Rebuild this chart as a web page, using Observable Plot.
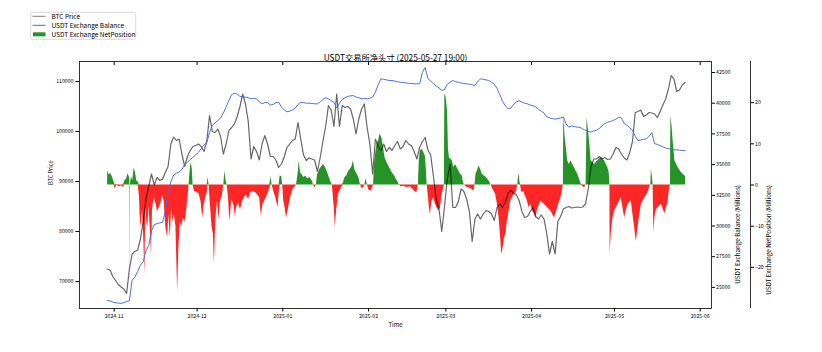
<!DOCTYPE html>
<html><head><meta charset="utf-8">
<script src="https://cdn.jsdelivr.net/npm/d3@7"></script>
<script src="https://cdn.jsdelivr.net/npm/@observablehq/plot@0.6"></script>
<style>
body{margin:0;background:#fff;}
#wrap{position:relative;width:822px;height:352px;font-family:"Noto Sans CJK SC",sans-serif;}
#wrap svg{position:absolute;left:0;top:0;}
</style></head><body><div id="wrap"></div>
<script>
// ---------------- data ----------------
const titleText = "USDT交易所净头寸 (2025-05-27 19:00)";
const xLabel = "Time";
const btcLabel = "BTC Price";
const balLabel = "USDT Exchange Balance (Millions)";
const netLabel = "USDT Exchange NetPosition (Millions)";
const legendLabels = ["BTC Price", "USDT Exchange Balance", "USDT Exchange NetPosition"];
const xTicks = ["2024-11","2024-12","2025-01","2025-02","2025-03","2025-04","2025-05","2025-06"];
const btcTicks = [70000, 80000, 90000, 100000, 110000];
const balTicks = [25000, 27500, 30000, 32500, 35000, 37500, 40000, 42500];
const netTicks = [-20, -10, 0, 10, 20];

// daily series, first day 2024-10-29
const dailyStart = "2024-10-29";
const btcPrice = [
72500,72300,71000,
70200,69400,68900,68500,67600,72500,75500,76000,76300,78500,82000,86500,89000,91500,89300,90800,90200,90500,91800,93000,97500,98900,98200,98500,95500,93000,95000,96200,97000,97200,
97500,97000,96000,98000,103200,100000,99800,100500,99000,95500,97500,100200,100800,101500,103000,105000,107500,105500,102000,94500,97000,96000,94300,97500,99200,97500,95000,95000,94300,92800,93500,
94900,96800,97500,98200,98500,101800,98500,95300,94200,94700,94500,94300,92000,94700,98000,101000,105200,104300,101000,107500,101000,105200,104800,105000,104500,102500,99500,102500,104500,105500,100800,
97500,91500,98500,97000,96200,97500,96000,96800,96200,97200,98000,96500,97000,98200,97500,97200,96000,94500,96800,98000,98800,96300,95300,91000,86500,84500,80000,85000,
90500,93500,84800,84800,86000,88500,88000,86500,84000,78000,82500,83500,82500,83500,84200,84000,83500,82200,84800,85500,84900,85800,87600,88200,87700,87300,86200,84000,82800,83000,84000,
84800,83000,82500,83300,82500,79500,75500,78000,75500,82000,83000,84500,84800,85000,84700,84800,84900,84800,84900,85500,88500,93000,94500,94500,95000,94500,94800,94400,94500,95500,
96800,96500,95500,94700,94300,95800,98000,103800,104000,104300,103000,103300,103800,103700,103500,102800,104000,105300,106500,108500,111200,110500,108000,108300,109300,109800
];
const usdtBalance = [
23930,23900,23800,
23750,23720,23700,23750,23850,23900,25600,25850,26300,26800,27100,28000,28400,29600,30100,30200,30250,30300,31200,32800,33600,34150,34300,34400,34600,35000,35200,35400,35600,35800,
36000,36300,36600,36800,37600,38200,38400,38600,38800,39200,39700,40200,40700,40800,40750,40550,40500,40500,40450,40350,40400,40350,40100,39950,40050,40050,39850,39900,40050,40080,39700,
39450,39300,39350,39450,39600,39900,40080,40050,40000,40000,39980,39950,39950,40100,40300,40450,40350,40200,40080,39600,40000,40300,40450,40550,40600,40620,40500,40450,40350,40400,40350,
40400,40500,40900,41500,41980,41950,41900,41850,41850,41800,41750,41700,41700,41650,41620,41600,41580,41580,41580,42500,42900,42000,41800,41600,41400,41250,41050,41100,
41550,41700,41850,41750,41700,41650,41600,41580,41550,41500,41450,41750,41980,41950,41900,41850,41700,41550,41200,40700,40150,39800,39550,39600,39900,40100,40200,40100,40000,39950,39850,
39800,39700,39500,39350,39200,38900,38800,38750,38700,38750,38800,38860,38300,38050,38150,38100,38050,38040,37900,37800,37700,37640,37750,37800,37950,38150,38350,38450,38500,38600,
38700,38850,38800,38350,38200,38000,37800,37300,36950,37000,37050,37100,37300,37600,36700,36650,36550,36450,36350,36300,36250,36200,36200,36180,36150,36140
];

// net position (irregular hourly samples, "YYYY-MM-DD HH")
const netTime = [
"2024-10-29 15","2024-10-30 03","2024-10-30 17","2024-10-31 08","2024-10-31 22","2024-11-01 10","2024-11-01 22","2024-11-02 18","2024-11-03 15","2024-11-04 08",
"2024-11-04 20","2024-11-05 13","2024-11-06 00","2024-11-06 13","2024-11-06 16","2024-11-06 18","2024-11-06 20","2024-11-07 06","2024-11-07 17","2024-11-08 05",
"2024-11-08 17","2024-11-09 04","2024-11-09 16","2024-11-10 04","2024-11-10 09","2024-11-10 18","2024-11-11 06","2024-11-11 17","2024-11-12 02","2024-11-12 11",
"2024-11-12 19","2024-11-13 04","2024-11-13 15","2024-11-14 04","2024-11-14 12","2024-11-14 21","2024-11-15 11","2024-11-16 02","2024-11-16 17","2024-11-17 07",
"2024-11-17 22","2024-11-18 12","2024-11-19 02","2024-11-19 17","2024-11-20 08","2024-11-20 19","2024-11-21 07","2024-11-21 19","2024-11-22 06","2024-11-22 18",
"2024-11-23 08","2024-11-23 23","2024-11-24 10","2024-11-24 22","2024-11-25 10","2024-11-26 00","2024-11-26 15","2024-11-27 06","2024-11-27 17","2024-11-28 02",
"2024-11-28 10","2024-11-28 19","2024-11-29 06","2024-11-29 13","2024-11-30 00","2024-11-30 23","2024-12-01 17","2024-12-02 10","2024-12-03 01","2024-12-03 13",
"2024-12-04 03","2024-12-04 15","2024-12-04 23","2024-12-05 08","2024-12-05 19","2024-12-06 10","2024-12-06 22","2024-12-07 06","2024-12-07 19","2024-12-08 09",
"2024-12-08 23","2024-12-09 11","2024-12-10 04","2024-12-10 16","2024-12-11 01","2024-12-11 12","2024-12-11 21","2024-12-12 08","2024-12-12 21","2024-12-13 14",
"2024-12-14 08","2024-12-14 19","2024-12-15 06","2024-12-16 00","2024-12-16 17","2024-12-17 11","2024-12-18 04","2024-12-18 21","2024-12-19 15","2024-12-20 08",
"2024-12-21 05","2024-12-22 10","2024-12-23 15","2024-12-24 06","2024-12-24 20","2024-12-26 01","2024-12-27 06","2024-12-27 18","2024-12-28 03","2024-12-28 17",
"2024-12-29 10","2024-12-30 07","2024-12-30 16","2024-12-31 01","2024-12-31 15","2024-12-31 23","2025-01-01 08","2025-01-01 20","2025-01-02 08","2025-01-02 22",
"2025-01-03 12","2025-01-04 03","2025-01-04 18","2025-01-05 12","2025-01-05 23","2025-01-06 14","2025-01-06 22","2025-01-07 10","2025-01-08 01","2025-01-08 15",
"2025-01-09 05","2025-01-09 23","2025-01-10 19","2025-01-11 16","2025-01-12 03","2025-01-12 14","2025-01-13 03","2025-01-13 14","2025-01-14 10","2025-01-15 03",
"2025-01-15 18","2025-01-16 12","2025-01-17 05","2025-01-17 20","2025-01-18 13","2025-01-18 22","2025-01-19 07","2025-01-19 16","2025-01-20 00","2025-01-20 12",
"2025-01-21 03","2025-01-21 16","2025-01-22 10","2025-01-22 22","2025-01-23 12","2025-01-24 03","2025-01-24 18","2025-01-25 11","2025-01-26 01","2025-01-26 13",
"2025-01-27 03","2025-01-27 18","2025-01-28 12","2025-01-29 02","2025-01-29 14","2025-01-30 05","2025-01-30 16","2025-01-31 03","2025-01-31 15","2025-02-01 03",
"2025-02-01 18","2025-02-02 08","2025-02-02 20","2025-02-03 04","2025-02-03 16","2025-02-04 03","2025-02-04 18","2025-02-05 05","2025-02-05 20","2025-02-06 11",
"2025-02-07 01","2025-02-07 16","2025-02-08 15","2025-02-09 14","2025-02-10 16","2025-02-10 22","2025-02-11 16","2025-02-12 03","2025-02-12 18","2025-02-13 17",
"2025-02-14 22","2025-02-16 03","2025-02-17 00","2025-02-17 17","2025-02-18 11","2025-02-19 01","2025-02-19 09","2025-02-19 18","2025-02-20 09","2025-02-21 00",
"2025-02-21 14","2025-02-21 22","2025-02-22 05","2025-02-22 13","2025-02-23 01","2025-02-23 09","2025-02-24 00","2025-02-24 15","2025-02-25 05","2025-02-25 20",
"2025-02-26 11","2025-02-27 01","2025-02-27 15","2025-02-28 06","2025-02-28 11","2025-02-28 15","2025-03-01 02","2025-03-01 14","2025-03-01 22","2025-03-02 07",
"2025-03-02 19","2025-03-03 07","2025-03-03 21","2025-03-04 11","2025-03-05 02","2025-03-05 17","2025-03-06 07","2025-03-06 22","2025-03-07 09","2025-03-07 18",
"2025-03-08 09","2025-03-09 08","2025-03-10 07","2025-03-11 04","2025-03-11 13","2025-03-11 21","2025-03-12 09","2025-03-12 23","2025-03-13 13","2025-03-14 04",
"2025-03-14 22","2025-03-15 15","2025-03-16 15","2025-03-17 08","2025-03-17 19","2025-03-18 10","2025-03-19 00","2025-03-19 15","2025-03-20 06","2025-03-20 17",
"2025-03-21 05","2025-03-21 17","2025-03-22 04","2025-03-22 15","2025-03-23 06","2025-03-23 21","2025-03-24 11","2025-03-25 02","2025-03-25 19","2025-03-26 13",
"2025-03-27 00","2025-03-27 09","2025-03-27 18","2025-03-28 00","2025-03-28 11","2025-03-29 02","2025-03-29 17","2025-03-30 07","2025-03-31 03","2025-03-31 17",
"2025-04-01 08","2025-04-01 23","2025-04-02 13","2025-04-03 04","2025-04-04 09","2025-04-05 14","2025-04-06 19","2025-04-08 00","2025-04-09 06","2025-04-10 02",
"2025-04-10 19","2025-04-11 15","2025-04-12 06","2025-04-12 12","2025-04-12 15","2025-04-13 02","2025-04-13 14","2025-04-14 01","2025-04-14 16","2025-04-15 06",
"2025-04-15 21","2025-04-16 12","2025-04-17 02","2025-04-17 17","2025-04-18 08","2025-04-18 21","2025-04-19 12","2025-04-20 03","2025-04-20 17","2025-04-21 02",
"2025-04-21 14","2025-04-22 01","2025-04-22 13","2025-04-23 18","2025-04-24 23","2025-04-26 04","2025-04-27 10","2025-04-28 00","2025-04-28 14","2025-04-29 02",
"2025-04-29 08","2025-04-29 10","2025-04-29 19","2025-04-30 10","2025-05-01 01","2025-05-02 06","2025-05-03 10","2025-05-04 01","2025-05-04 16","2025-05-05 06",
"2025-05-05 21","2025-05-07 02","2025-05-07 16","2025-05-08 07","2025-05-08 21","2025-05-09 12","2025-05-10 03","2025-05-10 17","2025-05-11 22","2025-05-13 03",
"2025-05-13 18","2025-05-14 03","2025-05-14 08","2025-05-14 17","2025-05-14 23","2025-05-15 05","2025-05-15 14","2025-05-16 04","2025-05-16 18","2025-05-17 23",
"2025-05-19 05","2025-05-19 19","2025-05-20 10","2025-05-20 21","2025-05-21 06","2025-05-21 09","2025-05-21 20","2025-05-22 05","2025-05-22 20","2025-05-24 01",
"2025-05-25 06","2025-05-26 11","2025-05-26 16"
];
const netValue = [
3.4,2.5,2.8,2.0,0.8,-1.0,0.1,-0.4,-0.2,-0.6,
1.0,1.5,2.8,1.8,0,-26.6,0,2.0,1.0,4.1,
3.0,1.0,0.8,-3,-7.2,-10.4,-6,-13,-21.8,-5,
-9,-10.4,-5,-12,-17,-6,-3,-4.5,-6.5,-5.5,
-4.5,-2.5,-4,-10.4,-12.8,-7,-12.8,-5.5,-9,-7,
-10,-25.9,-15,-9,-10.4,-8,-9,-6,-3,0,
3,5.4,4,0,-1.5,-1.8,-2.2,-4,-8,-5,
-3,-2,1.8,0,-4.5,-10.4,-12,-19.4,-8,-4,
-8.5,-4,-2.5,0,3.4,1,0,-3,-9,-3.5,
-5,-7.5,-5.5,-4.5,-6,-4,-3,-2.5,-3.5,-2,
-1.5,-2,-3.1,-7.6,-4.7,-3.1,-1,2,0,-1.5,
-3,-5.5,-2,2.2,2,0,-3.9,-5.5,-8,-6.3,
-3.9,-2.3,-1,-0.5,0,3,5.9,3,2.4,1.8,
2.2,1.5,1.8,1,0,-0.7,0,2.5,3.8,4.5,
5,4.2,3,1.8,0.5,0,-3,-6,-10.4,-6,
-2.3,-1.5,-0.5,0.5,1.8,2.2,3.2,3.8,4.5,5.9,
3.5,2.8,1.8,0,-0.7,-0.8,0,1.5,0,-1.2,
-1.5,-1.0,0,5,8,10,11,12.4,11.5,9,
6.5,5.5,4.2,3,2,1.5,0.7,0,-0.4,-0.3,
-0.6,-0.4,-1,-1.5,-1.9,0,5.9,8.3,8.7,7.9,
7,4,0,-2,-5.5,-7.2,-3.9,-3.1,-4.7,-5.5,
-6.3,-5.5,-2.3,-0.6,0,22.1,21.3,18,9,6.5,
6.3,5.9,4.2,5,4.2,3.4,2.6,2.2,0.5,0,
-0.5,-0.7,-1,-1.5,0,2.6,3.4,4.6,3.8,2.6,
2.2,1.8,1,0,-0.7,-1.5,-2.3,-4.6,-8,-12,
-16.9,-15.3,-13,-12,-8.8,-6.3,-3.9,-3.1,-2.3,-1.5,
0,3,1,0,-1.9,-1.5,-2.6,-3.5,-5.5,-4.7,
-6.3,-7,-8,-6,-3.9,-4.7,-5.5,-6.3,-8,-6.3,
-4.7,-3.1,-1,0,16.8,12,9,5.9,5,5.9,
5,4.2,3.4,2.6,1.4,0.3,-0.3,-0.7,0,16.4,
13.3,10,5.9,5,5.9,6.7,5.9,5,4.2,3,
0,-16.9,-12,-8,-6.3,-4.7,-3.1,-5.5,-8,-6.3,
-4.7,-3.9,-7.2,-10.4,-13.8,-10.4,-7.2,-4.7,-3.1,-1.9,
-0.5,0,3.8,2,0,-11.6,-8,-6,-5.5,-4.7,
-7,-5.5,-3.9,-1,0,16.8,14,10.6,5.9,4.2,
3,2.2,2.2
];

// ---------------- build tables ----------------
const start = d3.utcParse("%Y-%m-%d")(dailyStart);
const atNoon = i => d3.utcHour.offset(d3.utcDay.offset(start, i), 12);
const btc = btcPrice.map((v, i) => ({t: atNoon(i), v}));
const bal = usdtBalance.map((v, i) => ({t: atNoon(i), v}));
const parseH = d3.utcParse("%Y-%m-%d %H");
const net = netTime.map((s, i) => ({t: parseH(s), v: netValue[i]}));
const monthTicks = xTicks.map(d3.utcParse("%Y-%m"));

const W = 822, H = 352;
const frame = {width: W, height: H, marginLeft: 79, marginRight: 111, marginTop: 61, marginBottom: 44};
const xDomain = [new Date("2024-10-19T11:00Z"), new Date("2025-06-05T02:00Z")];
const font = "'Noto Sans CJK SC', 'DejaVu Sans', sans-serif";
const style = {fontFamily: font, fontSize: "5.2px", background: "transparent", overflow: "visible", color: "#000"};
const minus = d => d < 0 ? "\u2212" + (-d) : String(d);

// layer 1: net position areas + outer right axis
const pNet = Plot.plot({
  ...frame, style,
  x: {type: "utc", domain: xDomain, axis: null},
  y: {domain: [-30, 30]},
  marks: [
    Plot.areaY(net, {x: "t", y1: 0, y2: d => Math.max(0, d.v), fill: "#008000", fillOpacity: 0.85}),
    Plot.areaY(net, {x: "t", y1: 0, y2: d => Math.min(0, d.v), fill: "#ff0000", fillOpacity: 0.85}),
    Plot.ruleX([xDomain[1]], {dx: 39, stroke: "#000", strokeWidth: 0.8}),
    Plot.axisY({anchor: "right", ticks: netTicks, dx: 39, tickSize: 3, tickPadding: 1.5, tickFormat: minus, label: null, fontSize: 5.2}),
    Plot.text([netLabel], {frameAnchor: "right", dx: 57, rotate: -90, fontSize: 6.3, text: d => d})
  ]
});

// layer 2: BTC price, frame, x axis, left axis, title
const pBtc = Plot.plot({
  ...frame, style,
  x: {type: "utc", domain: xDomain},
  y: {domain: [64600, 114000]},
  marks: [
    Plot.line(btc, {x: "t", y: "v", stroke: "#000", strokeOpacity: 0.6, strokeWidth: 1.2}),
    Plot.frame({stroke: "#000", strokeWidth: 0.8}),
    Plot.axisX({ticks: monthTicks, tickFormat: d3.utcFormat("%Y-%m"), tickSize: 3.5, tickPadding: 2, label: null, fontSize: 5.2}),
    Plot.axisX({anchor: "top", ticks: monthTicks, tickSize: 3, dy: 3, tickFormat: () => "", label: null}),
    Plot.axisY({ticks: btcTicks, tickFormat: d => String(d), tickSize: 3.5, tickPadding: 2.5, label: null, fontSize: 5.2}),
    Plot.text([btcLabel], {frameAnchor: "left", dx: -28.5, rotate: -90, fontSize: 5.6, text: d => d}),
    Plot.text([xLabel], {frameAnchor: "bottom", dy: 18, fontSize: 6, text: d => d}),
    Plot.text([titleText], {frameAnchor: "top", dy: -6, fontSize: 8.3, text: d => d})
  ]
});

// layer 3: USDT exchange balance
const pBal = Plot.plot({
  ...frame, style,
  x: {type: "utc", domain: xDomain, axis: null},
  y: {domain: [23282, 43396]},
  marks: [
    Plot.line(bal, {x: "t", y: "v", stroke: "#4169e1", strokeWidth: 0.95}),
    Plot.axisY({anchor: "right", ticks: balTicks, tickFormat: d => String(d), tickSize: 3, tickPadding: 1.5, label: null, fontSize: 5.2}),
    Plot.text([balLabel], {frameAnchor: "right", dx: 26.3, rotate: -90, fontSize: 6.3, text: d => d})
  ]
});

const wrap = document.getElementById("wrap");
wrap.append(pNet, pBtc, pBal);

// legend (upper left, outside the axes)
const lg = d3.select(wrap).append("svg").attr("width", W).attr("height", H)
  .style("pointer-events", "none").style("font-family", font);
lg.append("rect").attr("x", 30.7).attr("y", 12.3).attr("width", 105).attr("height", 27).attr("rx", 1.5)
  .attr("fill", "#fff").attr("fill-opacity", 0.85).attr("stroke", "#d0d0d0").attr("stroke-width", 0.8);
const rows = [16.3, 25.3, 34.3];
lg.append("line").attr("x1", 32.5).attr("x2", 45.5).attr("y1", rows[0]).attr("y2", rows[0]).attr("stroke", "#808080").attr("stroke-width", 1);
lg.append("line").attr("x1", 32.5).attr("x2", 45.5).attr("y1", rows[1]).attr("y2", rows[1]).attr("stroke", "#4169e1").attr("stroke-width", 1);
lg.append("rect").attr("x", 33).attr("y", rows[2] - 2).attr("width", 12.5).attr("height", 4).attr("fill", "#008000").attr("fill-opacity", 0.85);
legendLabels.forEach((s, i) => lg.append("text").attr("x", 51.5).attr("y", rows[i]).attr("dy", "0.35em")
  .attr("font-size", 6.5).attr("fill", "#000").text(s));
</script></body></html>
